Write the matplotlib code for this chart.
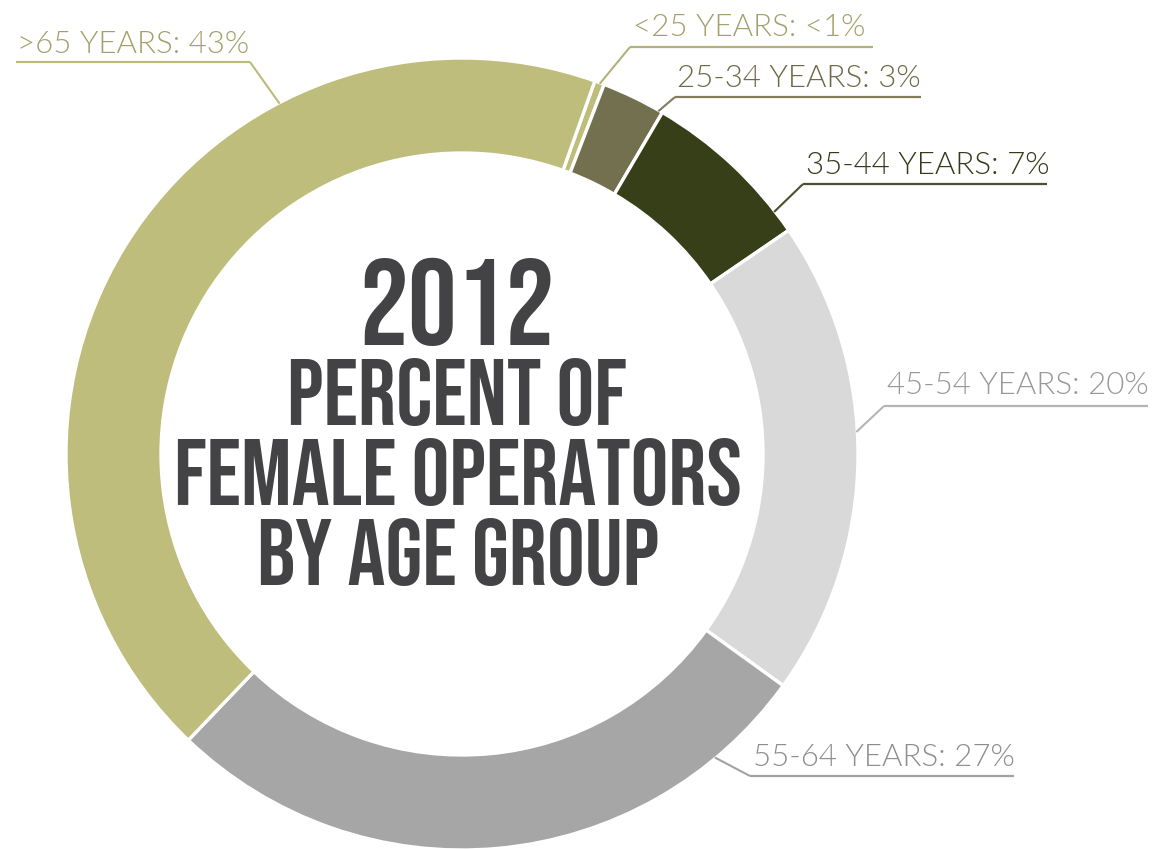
import matplotlib
matplotlib.use("Agg")
import matplotlib.pyplot as plt
from matplotlib import font_manager
import numpy as np

W, H = 1153, 849

# data (clockwise from the <25 sliver)
age_groups = ["<25 YEARS", "25-34 YEARS", "35-44 YEARS", "45-54 YEARS", "55-64 YEARS", ">65 YEARS"]
shares = [0.4, 2.6, 7.0, 19.5, 27.2, 43.3]
share_labels = ["<1%", "3%", "7%", "20%", "27%", "43%"]
title_lines = ["2012", "PERCENT OF", "FEMALE OPERATORS", "BY AGE GROUP"]

wedge_colors = ["#BEBD7B", "#737050", "#373F18", "#D9D9D9", "#A6A6A6", "#BEBD7B"]
text_colors = ["#A3A16B", "#6E6A48", "#343B1A", "#999999", "#8E8E8E", "#A3A16B"]
line_colors = ["#B3B27C", "#807C5C", "#4A5030", "#B5B5B5", "#A3A3A3", "#BDBB7C"]

# layout in pixels from top-left: text x, baseline y, underline x0, x1, y, anchor angle (deg clockwise from 12 o'clock)
label_layout = [
    (633, 36, 630, 873, 47, 20.4),
    (677, 87, 675, 921, 97, 29.8),
    (806, 174, 803, 1047, 184, 52.2),
    (887, 394, 884, 1148, 406, 86.8),
    (753, 766, 750, 1014, 776, 140.2),
    (17, 53, 16, 250, 62, -27.5),
]
# centre x, baseline y, font size
title_layout = [(457, 345, 88), (457, 425, 68), (458, 505, 68), (458, 585, 68)]

CX, CY, R, RING = 462, 454, 396, 95
START = 19.6  # first wedge starts this many degrees clockwise from the top

installed = {f.name for f in font_manager.fontManager.ttflist}


def pick(candidates):
    return next((c for c in candidates if c in installed), "DejaVu Sans")


title_font = pick(["Bebas Neue", "Oswald", "Fjalla One", "Liberation Sans Narrow"])
label_font = pick(["Lato", "Open Sans"])


def flip(y):
    return H - y


fig = plt.figure(figsize=(W / 100, H / 100), dpi=100)
ax = fig.add_axes([0, 0, 1, 1])

ax.pie(
    shares,
    colors=wedge_colors,
    center=(CX, flip(CY)),
    radius=R,
    startangle=90 - START,
    counterclock=False,
    wedgeprops=dict(width=RING, edgecolor="white", linewidth=2.4),
    frame=True,
)
ax.set_xlim(0, W)
ax.set_ylim(0, H)
ax.set_aspect("equal")
ax.axis("off")

for group, pct, tc, lc, (tx, ty, ux0, ux1, uy, ang) in zip(
    age_groups, share_labels, text_colors, line_colors, label_layout
):
    theta = np.radians(ang)
    ax_x = CX + (R - 1) * np.sin(theta)
    ax_y = CY - (R - 1) * np.cos(theta)
    elbow = ux1 if ax_x > ux1 else ux0
    ax.plot([ux0, ux1], [flip(uy), flip(uy)], color=lc, lw=1.6, solid_capstyle="butt")
    ax.plot([elbow, ax_x], [flip(uy), flip(ax_y)], color=lc, lw=1.5, solid_capstyle="butt")
    ax.text(tx, flip(ty), f"{group}: {pct}", color=tc, family=label_font,
            fontweight=300, fontsize=22.5, ha="left", va="baseline")

for line, (x, y, size) in zip(title_lines, title_layout):
    ax.text(x, flip(y), line, color="#434345", family=title_font,
            fontsize=size, ha="center", va="baseline")

fig.savefig("out.png", dpi=100)
